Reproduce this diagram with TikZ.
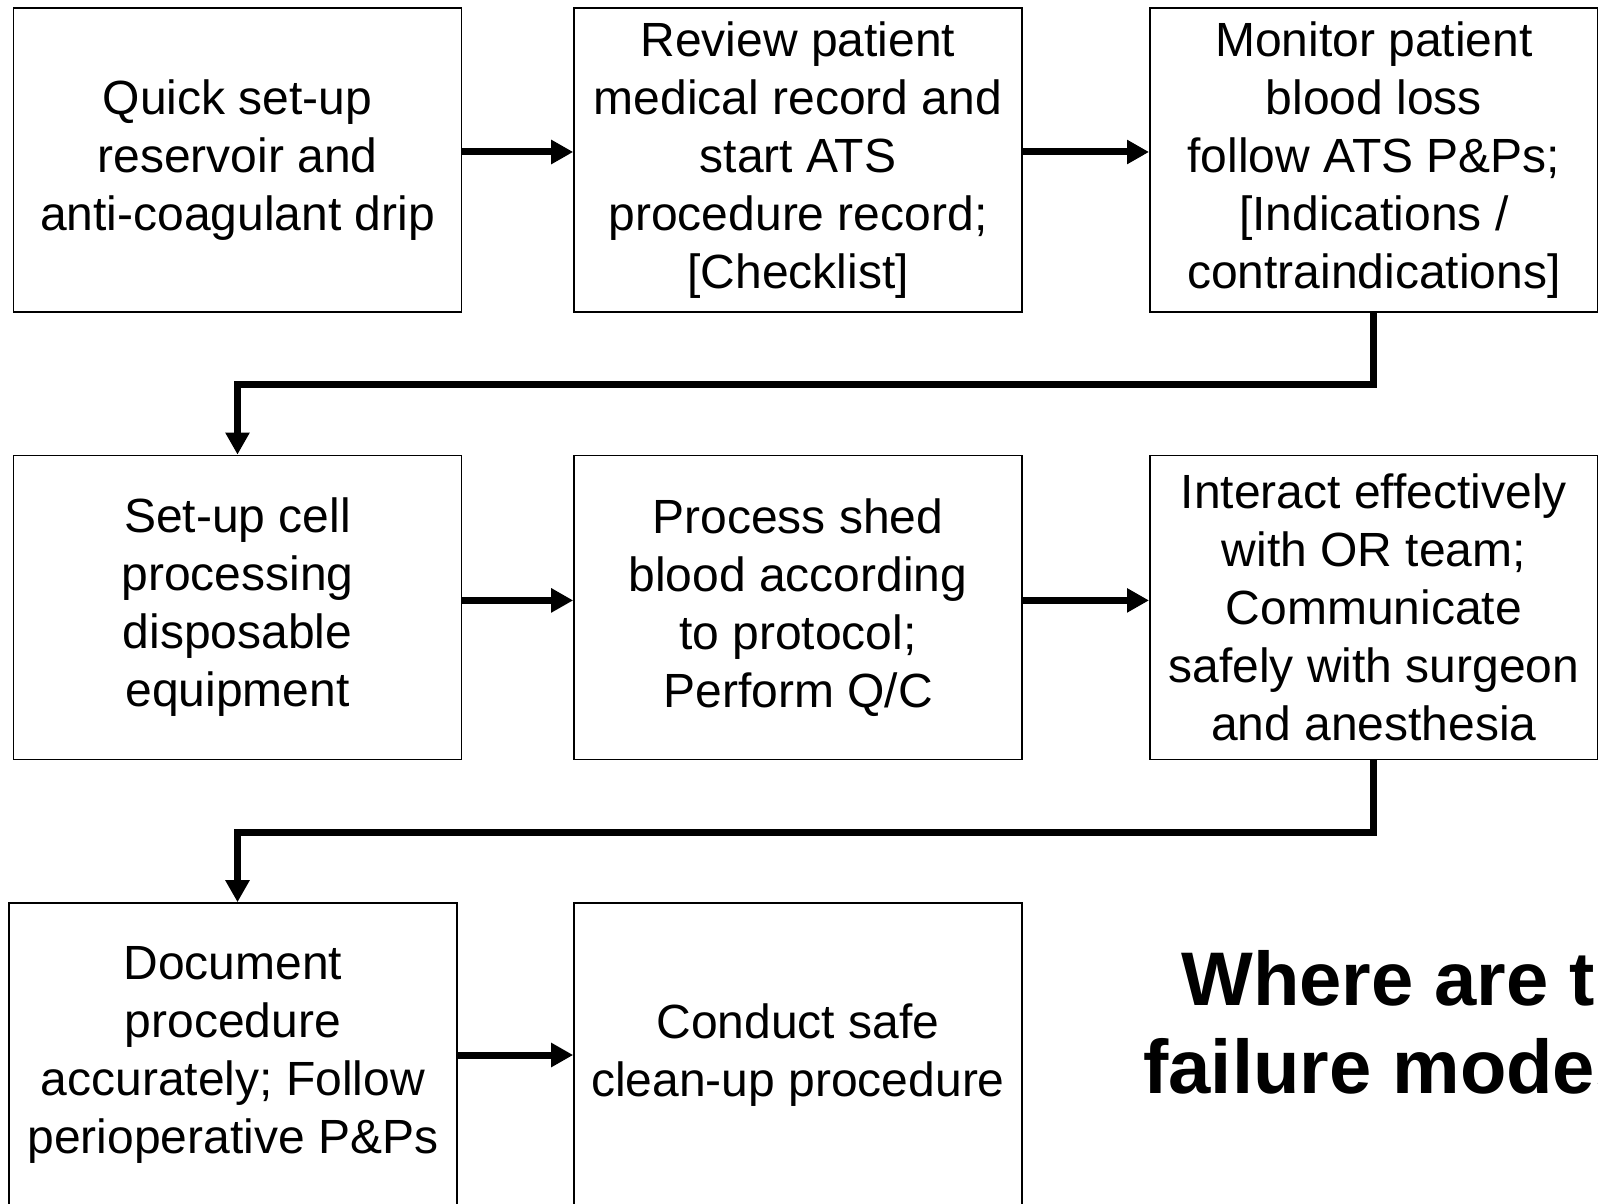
\documentclass[tikz,border=0pt]{standalone}
\usepackage{fontspec}
\setmainfont{Liberation Sans}
\usetikzlibrary{arrows.meta}
\tikzset{
    etape/.style={draw, line width=0.8pt, inner sep=0pt, minimum width=224pt,
      minimum height=152pt, align=center, font=\fontsize{24}{29}\selectfont},
    flux/.style={line width=3.5pt, -{Triangle[length=11pt,width=11.5pt]}},
    question/.style={align=right, anchor=east, font=\fontsize{38}{44}\bfseries\selectfont},
  }

\begin{document}
\begin{tikzpicture}[x=0.5pt,y=-0.5pt]
  %cadre de la page (coupe a droite et en bas)
  \useasboundingbox (0,0) rectangle (1598,1203);
  \clip (0,0) rectangle (1598,1203);

  %LIGNE 1
  \node[etape] (quick) at (237.5,160) {Quick set-up\\reservoir and\\anti-coagulant drip};
  \node[etape] (review) at (798,160) {Review patient\\medical record and\\start ATS\\procedure record;\\{[Checklist]}};
  \node[etape] (monitor) at (1373.8,160) {Monitor patient\\blood loss\\follow ATS P\&Ps;\\{[Indications /}\\contraindications]};

  %LIGNE 2
  \node[etape] (setup) at (237.5,607.4) {Set-up cell\\processing\\disposable\\equipment};
  \node[etape] (process) at (798,607.4) {Process shed\\blood according\\to protocol;\\Perform Q/C};
  \node[etape] (interact) at (1373.8,607.4) {Interact effectively\\with OR team;\\Communicate\\safely with surgeon\\and anesthesia};

  %LIGNE 3
  \node[etape] (document) at (232.9,1055) {Document\\procedure\\accurately; Follow\\perioperative P\&Ps};
  \node[etape] (cleanup) at (798,1055) {Conduct safe\\clean-up procedure};
  \node[question] (failure) at (1691,1022) {Where are the\\failure modes?};

  %fleches
  \draw[flux] ([yshift=4pt]quick.east) -- ([yshift=4pt]review.west);
  \draw[flux] ([yshift=4pt]review.east) -- ([yshift=4pt]monitor.west);
  \draw[flux] (monitor.south) -- ++(0,71.4) -| (setup.north);
  \draw[flux] ([yshift=3.5pt]setup.east) -- ([yshift=3.5pt]process.west);
  \draw[flux] ([yshift=3.5pt]process.east) -- ([yshift=3.5pt]interact.west);
  \draw[flux] (interact.south) -- ++(0,72.4) -| ([xshift=2.3pt]document.north);
  \draw[flux] (document.east) -- (cleanup.west);
\end{tikzpicture}
\end{document}
